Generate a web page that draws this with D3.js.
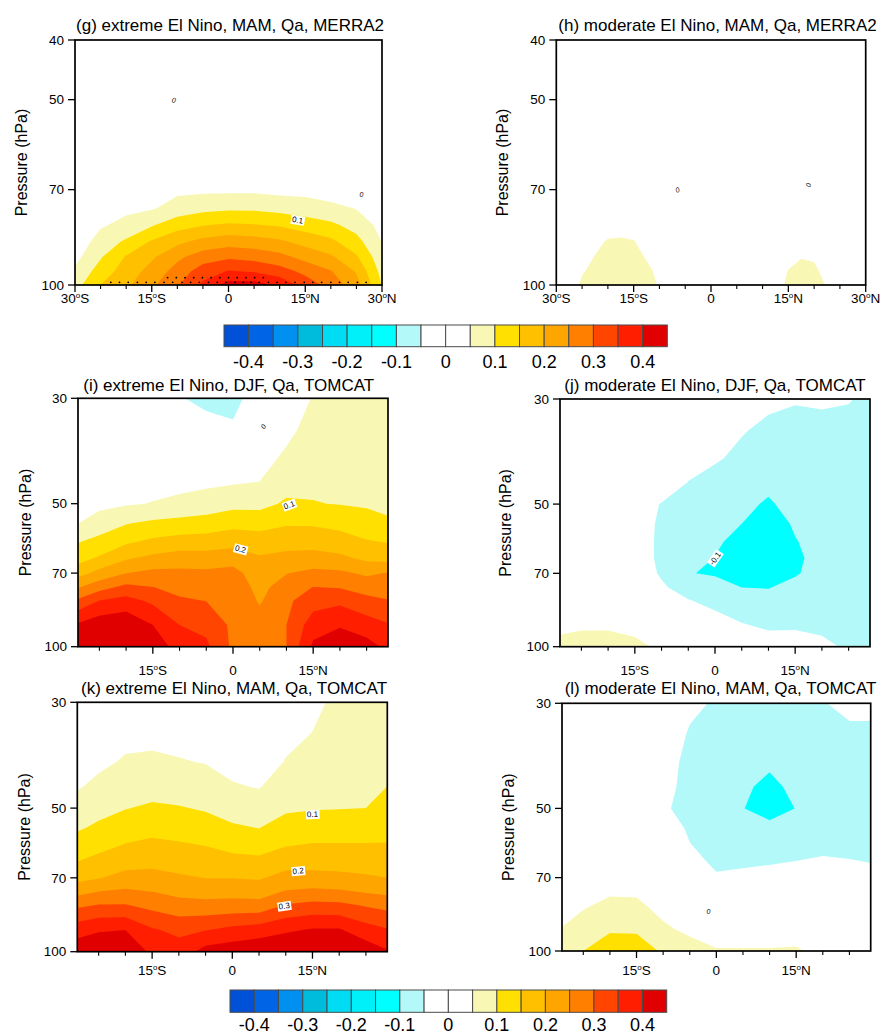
<!DOCTYPE html>
<html><head><meta charset="utf-8">
<script src="https://cdn.jsdelivr.net/npm/d3@7"></script>
<style>
body{margin:0;background:#fff}
svg{display:block}
text{font-family:"Liberation Sans",Arial,Helvetica,sans-serif;fill:#000}
</style>
</head><body>
<svg id="c" width="881" height="1034"></svg>
<script>
// ---------------- contour levels, colours, colour-bar labels ----------------
const levels = [-0.4,-0.35,-0.3,-0.25,-0.2,-0.15,-0.1,-0.05,0,0.05,0.1,0.15,0.2,0.25,0.3,0.35,0.4];
const colors = ["#0050d8","#0064e6","#0090f0","#00bcdc","#00dcf4","#00f0fa","#00ffff","#b4f9f9",
                "#ffffff","#ffffff","#f8f8b4","#ffe000","#ffc000","#ffa500","#ff8000","#ff4500","#ff1e00","#e00000"];
const cbarLabels = ["-0.4","-0.3","-0.2","-0.1","0","0.1","0.2","0.3","0.4"];

// ---------------- MERRA2 grids (stored by pressure row) ----------------
const latsG = [-30,-25,-20,-15,-10,-5,0,5,10,15,20,25,30];
const levsG = [100,95,90,85,80,75,70,60,50,40];
const gVals = [
 [0.080,0.150,0.190,0.240,0.295,0.360,0.420,0.420,0.390,0.330,0.280,0.220,0.098],
 [0.057,0.123,0.173,0.218,0.270,0.325,0.353,0.345,0.322,0.286,0.253,0.195,0.082],
 [0.035,0.095,0.154,0.192,0.239,0.275,0.290,0.282,0.265,0.233,0.207,0.156,0.066],
 [0.020,0.069,0.108,0.155,0.188,0.215,0.228,0.221,0.208,0.183,0.161,0.117,0.048],
 [0.010,0.045,0.063,0.096,0.131,0.148,0.158,0.154,0.145,0.127,0.111,0.081,0.035],
 [0.000,0.030,0.040,0.045,0.069,0.085,0.091,0.090,0.082,0.072,0.060,0.048,0.020],
 [0.000,0.020,0.025,0.030,0.040,0.040,0.040,0.040,0.035,0.035,0.030,0.030,0.010],
 [0.000,0.010,0.010,0.015,0.020,0.020,0.020,0.020,0.020,0.020,0.015,0.015,0.005],
 [0.000,0.005,0.005,0.005,0.010,0.010,0.010,0.010,0.010,0.010,0.005,0.005,0.000],
 [0.000,0.000,0.000,0.000,0.000,0.000,0.000,0.000,0.000,0.000,0.000,0.000,0.000]
];
const latsH = [-30,-27.5,-25,-22.5,-20,-17.5,-15,-12.5,-10,-7.5,-5,-2.5,0,2.5,5,7.5,10,12.5,15,17.5,20,22.5,25,27.5,30];
const levsH = [100,95,90,85,80,70,40];
const hVals = [
 [0.02,0.035,0.055,0.062,0.068,0.070,0.066,0.058,0.048,0.035,0.02,0.01,0,0,0,0.01,0.02,0.040,0.055,0.062,0.060,0.048,0.03,0.02,0.01],
 [0.02,0.035,0.048,0.056,0.062,0.064,0.062,0.055,0.045,0.030,0.02,0.01,0,0,0,0.01,0.02,0.036,0.051,0.057,0.055,0.042,0.03,0.02,0.01],
 [0.015,0.03,0.040,0.051,0.058,0.060,0.058,0.048,0.040,0.030,0.02,0.01,0,0,0,0.01,0.02,0.030,0.043,0.049,0.047,0.035,0.025,0.015,0.01],
 [0.01,0.025,0.035,0.044,0.052,0.053,0.051,0.042,0.035,0.025,0.015,0.01,0,0,0,0.01,0.015,0.025,0.035,0.040,0.038,0.030,0.02,0.01,0.01],
 [0.01,0.02,0.030,0.035,0.040,0.041,0.040,0.035,0.030,0.020,0.01,0.005,0,0,0,0.005,0.01,0.020,0.030,0.033,0.030,0.025,0.015,0.01,0.005],
 [0.005,0.01,0.015,0.02,0.02,0.02,0.02,0.015,0.01,0.005,0,0,0,0,0,0,0,0.01,0.015,0.015,0.015,0.01,0.005,0,0],
 [0,0,0,0,0,0,0,0,0,0,0,0,0,0,0,0,0,0,0,0,0,0,0,0,0]
];
// significance stippling (MERRA2 extreme MAM)
const stipLatsLow  = [-23.0,-21.3,-19.6,-17.8,-16.1,-14.4,-12.6,-10.9,-9.1,-7.4,-5.7,-3.9,-2.2,-0.5,1.3,2.9,4.4,6.0,7.8,9.5,11.2,13.0,14.8,16.5,18.2,20.0,21.7,23.4,25.2,26.9];
const stipPLow = 99.0;
const stipLatsHigh = [-11.9,-10.2,-8.5,-6.8,-5.1,-3.4,-1.7,0.0,1.7,3.4,5.1,6.8];
const stipPHigh = 97.3;

// ---------------- TOMCAT grids (stored by latitude column, pressure 100 -> 30) ----------------
const latsT = [-30,-25,-20,-15,-10,-5,0,5,10,15,20,25,30];
const levsT = [100,90,80,75,70,65,60,55,50,45,40,35,30];
const iVals = [
 [0.43,0.40,0.30,0.238,0.171,0.127,0.09,0.045,0.03,0.02,0.01,0.0,-0.055],
 [0.45,0.43,0.351,0.281,0.216,0.155,0.117,0.0675,0.04,0.025,0.01,0.0,-0.01],
 [0.46,0.44,0.368,0.314,0.249,0.193,0.141,0.0975,0.045,0.03,0.015,0.0,0.0],
 [0.43,0.40,0.34,0.301,0.263,0.211,0.159,0.11,0.052,0.035,0.02,0.01,0.0],
 [0.38,0.35,0.307,0.285,0.262,0.2225,0.17,0.116,0.062,0.035,0.02,0.005,-0.045],
 [0.36,0.336,0.299,0.28,0.2595,0.221,0.172,0.122,0.072,0.04,0.02,-0.02,-0.07],
 [0.29,0.29,0.29,0.28,0.265,0.23,0.18,0.135,0.084,0.045,0.02,-0.035,-0.08],
 [0.28,0.27,0.245,0.235,0.225,0.205,0.1735,0.132,0.085,0.0505,0.035,0.01,0.0],
 [0.30,0.30,0.29,0.275,0.248,0.214,0.18,0.145,0.107,0.0817,0.057,0.04,0.03],
 [0.41,0.376,0.329,0.301,0.263,0.218,0.18,0.144,0.102,0.09,0.078,0.065,0.052],
 [0.44,0.394,0.339,0.297,0.259,0.209,0.172,0.135,0.098,0.09,0.085,0.08,0.075],
 [0.42,0.373,0.314,0.28,0.2415,0.1885,0.153,0.116,0.095,0.085,0.078,0.072,0.068],
 [0.38,0.35,0.30,0.275,0.255,0.177,0.145,0.104,0.09,0.085,0.08,0.075,0.07]
];
const jVals = [
 [0.06,0.04,0.0,0.0,0.0,0.0,0.0,0.0,0.0,0.0,0.0,0.0,0.0],
 [0.065,0.045,0.0,-0.005,-0.01,-0.01,-0.01,-0.01,-0.01,-0.005,0.0,0.0,0.0],
 [0.065,0.045,0.0,-0.01,-0.015,-0.02,-0.02,-0.02,-0.015,-0.01,-0.005,0.0,0.0],
 [0.058,0.04,0.0,-0.01,-0.03,-0.035,-0.035,-0.035,-0.03,-0.02,-0.01,0.0,0.0],
 [0.044,0.0,-0.03,-0.045,-0.054,-0.056,-0.056,-0.055,-0.052,-0.025,-0.02,-0.01,-0.005],
 [0.02,-0.02,-0.048,-0.065,-0.098,-0.085,-0.08,-0.075,-0.065,-0.051,-0.035,-0.02,-0.01],
 [0.0,-0.035,-0.06,-0.08,-0.105,-0.101,-0.095,-0.09,-0.08,-0.065,-0.045,-0.03,-0.02],
 [-0.02,-0.048,-0.07,-0.1,-0.11,-0.115,-0.11,-0.1,-0.09,-0.075,-0.06,-0.047,-0.035],
 [-0.035,-0.055,-0.08,-0.102,-0.12,-0.125,-0.125,-0.12,-0.105,-0.09,-0.075,-0.06,-0.04],
 [-0.04,-0.053,-0.07,-0.085,-0.105,-0.108,-0.102,-0.095,-0.085,-0.075,-0.065,-0.058,-0.048],
 [-0.042,-0.058,-0.068,-0.072,-0.08,-0.085,-0.085,-0.08,-0.075,-0.07,-0.065,-0.058,-0.046],
 [-0.055,-0.065,-0.07,-0.072,-0.075,-0.078,-0.078,-0.075,-0.072,-0.07,-0.065,-0.06,-0.048],
 [-0.06,-0.065,-0.07,-0.07,-0.072,-0.075,-0.075,-0.072,-0.07,-0.068,-0.065,-0.062,-0.06]
];
const kVals = [
 [0.43,0.375,0.288,0.23,0.183,0.148,0.119,0.09,0.063,0.043,0.03,0.02,0.01],
 [0.44,0.395,0.304,0.252,0.197,0.166,0.137,0.109,0.084,0.059,0.042,0.03,0.02],
 [0.44,0.40,0.304,0.26,0.216,0.183,0.154,0.127,0.098,0.077,0.054,0.04,0.03],
 [0.39,0.355,0.286,0.251,0.2175,0.188,0.162,0.135,0.107,0.082,0.057,0.04,0.03],
 [0.37,0.339,0.268,0.238,0.2066,0.181,0.156,0.131,0.103,0.079,0.053,0.035,0.025],
 [0.42,0.348,0.266,0.232,0.199,0.176,0.15,0.123,0.095,0.071,0.048,0.03,0.02],
 [0.43,0.364,0.269,0.234,0.199,0.167,0.136,0.106,0.081,0.054,0.035,0.02,0.01],
 [0.44,0.375,0.268,0.23,0.195,0.163,0.1315,0.099,0.073,0.047,0.03,0.015,0.01],
 [0.45,0.392,0.305,0.255,0.216,0.182,0.149,0.119,0.093,0.074,0.052,0.04,0.03],
 [0.46,0.405,0.316,0.263,0.216,0.183,0.155,0.125,0.097,0.083,0.068,0.051,0.04],
 [0.46,0.405,0.314,0.258,0.212,0.183,0.155,0.125,0.0986,0.0907,0.0818,0.072,0.06],
 [0.43,0.371,0.296,0.247,0.206,0.18,0.154,0.129,0.10,0.092,0.085,0.08,0.075],
 [0.40,0.35,0.283,0.237,0.199,0.177,0.153,0.137,0.12,0.102,0.095,0.09,0.085]
];
const lVals = [
 [0.065,0.048,0.03,0.02,0.01,0.0,0.0,0.0,0.0,0.0,0.0,0.0,0.0],
 [0.10,0.07,0.045,0.03,0.02,0.01,0.0,0.0,0.0,0.0,0.0,0.0,0.0],
 [0.125,0.095,0.0595,0.045,0.03,0.02,0.01,0.0,0.0,0.0,0.0,0.0,0.0],
 [0.12,0.095,0.058,0.044,0.03,0.02,0.01,0.0,-0.01,-0.01,-0.01,-0.005,0.0],
 [0.095,0.058,0.035,0.02,0.01,0.0,-0.01,-0.02,-0.045,-0.038,-0.035,-0.02,-0.01],
 [0.07,0.04,0.01,0.0,-0.02,-0.035,-0.048,-0.058,-0.062,-0.062,-0.06,-0.055,-0.04],
 [0.055,0.02,-0.01,-0.025,-0.045,-0.058,-0.065,-0.07,-0.075,-0.075,-0.072,-0.065,-0.055],
 [0.055,0.02,-0.01,-0.025,-0.042,-0.055,-0.07,-0.085,-0.099,-0.09,-0.08,-0.07,-0.06],
 [0.055,0.02,-0.015,-0.03,-0.04,-0.052,-0.07,-0.09,-0.115,-0.115,-0.09,-0.08,-0.065],
 [0.058,0.02,-0.015,-0.025,-0.038,-0.049,-0.06,-0.08,-0.099,-0.085,-0.075,-0.065,-0.058],
 [0.03,0.0,-0.015,-0.025,-0.035,-0.045,-0.058,-0.065,-0.07,-0.07,-0.068,-0.062,-0.052],
 [0.0,-0.005,-0.02,-0.03,-0.038,-0.048,-0.058,-0.065,-0.068,-0.068,-0.065,-0.058,-0.04],
 [0.0,-0.01,-0.02,-0.03,-0.04,-0.051,-0.06,-0.065,-0.068,-0.068,-0.065,-0.058,-0.04]
];

// contour line labels: [panel, text, lat, pressure, rotation, boxed]
const lineLabels = [
 ["g","0.1",13.5,78.4,9,true],["g","0",-10.7,50.1,10,false],["g","0",26.0,71.4,0,false],
 ["h","0",-6.5,70.1,-25,false],["h","0",18.9,68.8,-70,false],
 ["i","0.1",10.5,50.3,-20,true],["i","0.2",1.4,62.3,15,true],["i","0",5.7,34.4,-60,false],
 ["j","-0.1",0.0,65.1,-55,true],
 ["k","0.1",15.0,51.5,-3,true],["k","0.2",12.3,67.7,-5,true],["k","0.3",9.7,80.2,-8,true],
 ["l","0",-1.5,82.6,0,false]
];

// ---------------- panel layout ----------------
const panels = [
 {id:"g",title:"(g) extreme El Nino, MAM, Qa, MERRA2",tx:230,ty:31,x0:75,x1:382,y0:40,y1:285,latDom:[-30,30],pDom:[40,100],
  yticks:[40,50,70,100],xmajor:[-30,-15,0,15,30],lats:latsG,levs:levsG,vals:gVals,byRows:true,ylabX:21,xlabY:303},
 {id:"h",title:"(h) moderate El Nino, MAM, Qa, MERRA2",tx:717.5,ty:31,x0:556.3,x1:865.7,y0:40,y1:285,latDom:[-30,30],pDom:[40,100],
  yticks:[40,50,70,100],xmajor:[-30,-15,0,15,30],lats:latsH,levs:levsH,vals:hVals,byRows:true,ylabX:502,xlabY:303},
 {id:"i",title:"(i) extreme El Nino, DJF, Qa, TOMCAT",tx:228.7,ty:391,x0:78,x1:388,y0:398.3,y1:646.7,latDom:[-29,29],pDom:[30,100],
  yticks:[30,50,70,100],xmajor:[-15,0,15],lats:latsT,levs:levsT,vals:iVals,byRows:false,ylabX:25.5,xlabY:675},
 {id:"j",title:"(j) moderate El Nino, DJF, Qa, TOMCAT",tx:715,ty:391,x0:560,x1:870,y0:399,y1:646.7,latDom:[-29,29],pDom:[30,100],
  yticks:[30,50,70,100],xmajor:[-15,0,15],lats:latsT,levs:levsT,vals:jVals,byRows:false,ylabX:505,xlabY:675},
 {id:"k",title:"(k) extreme El Nino, MAM, Qa, TOMCAT",tx:234,ty:694,x0:77.3,x1:387.3,y0:702.3,y1:951.7,latDom:[-29,29],pDom:[30,100],
  yticks:[30,50,70,100],xmajor:[-15,0,15],lats:latsT,levs:levsT,vals:kVals,byRows:false,ylabX:24.5,xlabY:975},
 {id:"l",title:"(l) moderate El Nino, MAM, Qa, TOMCAT",tx:720.5,ty:694,x0:562,x1:870.7,y0:703.3,y1:951,latDom:[-29,29],pDom:[30,100],
  yticks:[30,50,70,100],xmajor:[-15,0,15],lats:latsT,levs:levsT,vals:lVals,byRows:false,ylabX:508,xlabY:975}
];
const xminor = [-25,-20,-10,-5,5,10,20,25];

const svg = d3.select("#c");
svg.append("rect").attr("width",881).attr("height",1034).attr("fill","#fff");
const defs = svg.append("defs");

function latText(sel, v){
  if (v === 0) { sel.text("0"); return; }
  sel.append("tspan").text(Math.abs(v));
  sel.append("tspan").attr("font-size",8).attr("dy",-5).text("o");
  sel.append("tspan").attr("dy",5).text(v < 0 ? "S" : "N");
}

panels.forEach(P => {
  const xs = d3.scaleLinear().domain(P.latDom).range([P.x0, P.x1]);
  const ys = d3.scaleLog().domain(P.pDom).range([P.y0, P.y1]);
  const g = svg.append("g");
  defs.append("clipPath").attr("id","clip-"+P.id).append("rect")
    .attr("x",P.x0).attr("y",P.y0).attr("width",P.x1-P.x0).attr("height",P.y1-P.y0);
  const gc = g.append("g").attr("clip-path","url(#clip-"+P.id+")");
  gc.append("rect").attr("x",P.x0).attr("y",P.y0).attr("width",P.x1-P.x0).attr("height",P.y1-P.y0).attr("fill","#fff");

  const nx = P.lats.length, ny = P.levs.length;
  const flat = new Array(nx*ny);
  for (let j=0;j<ny;j++) for (let i=0;i<nx;i++) flat[j*nx+i] = P.byRows ? P.vals[j][i] : P.vals[i][j];
  const latAt = d3.scaleLinear().domain(d3.range(nx)).range(P.lats).clamp(true);
  const lpAt = d3.scaleLinear().domain(d3.range(ny)).range(P.levs.map(Math.log)).clamp(true);
  const proj = d3.geoTransform({point: function(x,y){ this.stream.point(xs(latAt(x-0.5)), ys(Math.exp(lpAt(y-0.5)))); }});
  const path = d3.geoPath(proj);
  const conts = d3.contours().size([nx,ny]).thresholds(levels)(flat);
  conts.forEach((c,k) => {
    if (c.coordinates.length) gc.append("path").attr("d", path(c)).attr("fill", colors[k+1]);
  });

  if (P.id === "g") {
    stipLatsLow.forEach(l => gc.append("circle").attr("cx",xs(l)).attr("cy",ys(stipPLow)).attr("r",0.9).attr("fill","#000"));
    stipLatsHigh.forEach(l => gc.append("circle").attr("cx",xs(l)).attr("cy",ys(stipPHigh)).attr("r",0.9).attr("fill","#000"));
  }

  // contour line labels
  lineLabels.filter(d => d[0] === P.id).forEach(d => {
    const lg = g.append("g").attr("transform",`translate(${xs(d[2])},${ys(d[3])}) rotate(${d[4]})`);
    const t = lg.append("text").attr("text-anchor","middle").attr("dy","0.35em")
      .attr("font-size", d[5] ? 8 : 7).attr("font-style", d[5] ? "normal" : "italic").text(d[1]);
    if (d[5]) {
      const bb = t.node().getBBox();
      lg.insert("rect","text").attr("x",bb.x-1).attr("y",bb.y).attr("width",bb.width+2).attr("height",bb.height).attr("fill","#fff");
    }
  });

  // frame
  g.append("rect").attr("x",P.x0).attr("y",P.y0).attr("width",P.x1-P.x0).attr("height",P.y1-P.y0)
    .attr("fill","none").attr("stroke","#000").attr("stroke-width",1.7);

  // y ticks
  P.yticks.forEach(v => {
    g.append("line").attr("x1",P.x0-7).attr("x2",P.x0).attr("y1",ys(v)).attr("y2",ys(v)).attr("stroke","#000").attr("stroke-width",1.3);
    g.append("text").attr("x",P.x0-11).attr("y",ys(v)).attr("dy","0.35em").attr("text-anchor","end").attr("font-size",13.5).text(v);
  });
  // x ticks
  P.xmajor.forEach(v => {
    g.append("line").attr("x1",xs(v)).attr("x2",xs(v)).attr("y1",P.y1).attr("y2",P.y1+7).attr("stroke","#000").attr("stroke-width",1.3);
    const t = g.append("text").attr("x",xs(v)).attr("y",P.xlabY).attr("text-anchor","middle").attr("font-size",13.5);
    latText(t, v);
  });
  xminor.forEach(v => {
    g.append("line").attr("x1",xs(v)).attr("x2",xs(v)).attr("y1",P.y1).attr("y2",P.y1+4).attr("stroke","#000").attr("stroke-width",1.1);
  });
  // titles and axis label
  g.append("text").attr("x",P.tx).attr("y",P.ty).attr("text-anchor","middle").attr("font-size",17).text(P.title);
  g.append("text").attr("transform",`translate(${P.ylabX},${(P.y0+P.y1)/2}) rotate(-90)`)
    .attr("text-anchor","middle").attr("dy","0.35em").attr("font-size",16).text("Pressure (hPa)");
});

// ---------------- colour bars ----------------
function colorbar(x0, x1, y0, y1, labY){
  const cx = d3.scaleLinear().domain([0, colors.length]).range([x0, x1]);
  const g = svg.append("g");
  colors.forEach((c,i) => {
    g.append("rect").attr("x",cx(i)).attr("y",y0).attr("width",cx(i+1)-cx(i)).attr("height",y1-y0)
      .attr("fill",c).attr("stroke","#4a4a4a").attr("stroke-width",1);
  });
  cbarLabels.forEach((s,k) => {
    g.append("text").attr("x",cx(1+2*k)).attr("y",labY).attr("text-anchor","middle").attr("font-size",18).text(s);
  });
}
colorbar(224, 667.3, 325, 346.7, 368);
colorbar(230, 666.7, 990, 1012.3, 1031);
</script>
</body></html>
